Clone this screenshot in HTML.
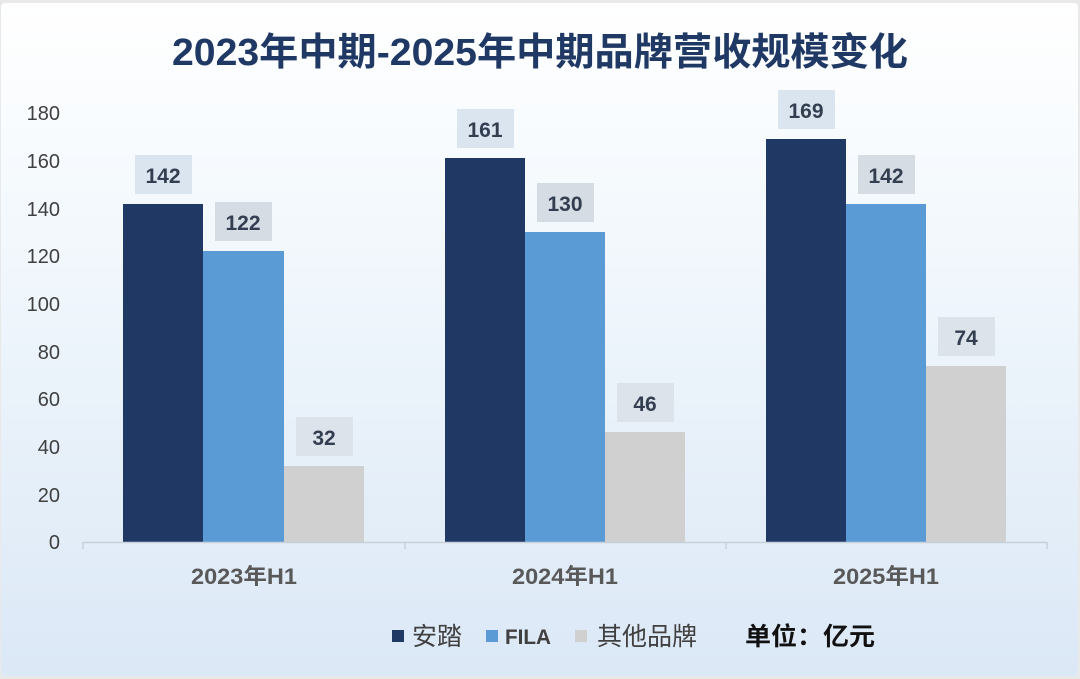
<!DOCTYPE html>
<html><head><meta charset="utf-8"><style>
html,body{margin:0;padding:0;background:#fff}
svg{display:block}
text{font-family:"Liberation Sans","Noto Sans CJK SC",sans-serif}
</style></head><body>
<svg width="1080" height="679" viewBox="0 0 1080 679" xmlns="http://www.w3.org/2000/svg">
<defs>
<linearGradient id="bg" x1="0" y1="0" x2="0" y2="1">
<stop offset="0" stop-color="#ffffff"/>
<stop offset="0.3" stop-color="#f4f9fd"/>
<stop offset="1" stop-color="#dbe8f6"/>
</linearGradient>
</defs>
<rect x="0" y="0" width="1080" height="679" fill="#e9e9e9"/>
<rect x="1" y="3" width="1077" height="673" rx="4" fill="url(#bg)"/>
<text x="540" y="65" text-anchor="middle" font-size="38" font-weight="bold" fill="#1f3864" textLength="736" lengthAdjust="spacingAndGlyphs">2023年中期-2025年中期品牌营收规模变化</text>
<g font-size="20" fill="#404040" text-anchor="end">
<text x="60" y="549">0</text>
<text x="60" y="502">20</text>
<text x="60" y="454">40</text>
<text x="60" y="406">60</text>
<text x="60" y="359">80</text>
<text x="60" y="311">100</text>
<text x="60" y="263">120</text>
<text x="60" y="216">140</text>
<text x="60" y="168">160</text>
<text x="60" y="120">180</text>
</g>
<g>
<rect x="123" y="204" width="80" height="338" fill="#1f3864"/>
<rect x="203" y="251" width="81" height="291" fill="#5b9bd5"/>
<rect x="284" y="466" width="80" height="76" fill="#d0d0d0"/>
<rect x="445" y="158" width="80" height="384" fill="#1f3864"/>
<rect x="525" y="232" width="80" height="310" fill="#5b9bd5"/>
<rect x="605" y="432" width="80" height="110" fill="#d0d0d0"/>
<rect x="766" y="139" width="80" height="403" fill="#1f3864"/>
<rect x="846" y="204" width="80" height="338" fill="#5b9bd5"/>
<rect x="926" y="366" width="80" height="176" fill="#d0d0d0"/>
</g>
<line x1="83" y1="542.5" x2="1047" y2="542.5" stroke="#c8d0da" stroke-width="1.5"/>
<g stroke="#c8d0da" stroke-width="1.5">
<line x1="83" y1="542" x2="83" y2="549"/><line x1="405" y1="542" x2="405" y2="549"/>
<line x1="726" y1="542" x2="726" y2="549"/><line x1="1047" y1="542" x2="1047" y2="549"/>
</g>
<g font-size="21" font-weight="bold" fill="#333f50" text-anchor="middle">
<rect x="135" y="155" width="57" height="39" fill="#dbe5f0"/><text x="163" y="183">142</text>
<rect x="215" y="202" width="57" height="39" fill="#d5dce4"/><text x="243" y="230">122</text>
<rect x="296" y="417" width="57" height="39" fill="#dde3ea"/><text x="324" y="445">32</text>
<rect x="457" y="109" width="57" height="39" fill="#dbe5f0"/><text x="485" y="137">161</text>
<rect x="537" y="183" width="57" height="39" fill="#d5dce4"/><text x="565" y="211">130</text>
<rect x="617" y="383" width="57" height="39" fill="#dde3ea"/><text x="645" y="411">46</text>
<rect x="778" y="90" width="57" height="39" fill="#dbe5f0"/><text x="806" y="118">169</text>
<rect x="858" y="155" width="57" height="39" fill="#d5dce4"/><text x="886" y="183">142</text>
<rect x="938" y="317" width="57" height="39" fill="#dde3ea"/><text x="966" y="345">74</text>
</g>
<g font-size="22" font-weight="bold" fill="#595959" text-anchor="middle">
<text x="244" y="584" textLength="106" lengthAdjust="spacingAndGlyphs">2023年H1</text>
<text x="565" y="584" textLength="106" lengthAdjust="spacingAndGlyphs">2024年H1</text>
<text x="886" y="584" textLength="106" lengthAdjust="spacingAndGlyphs">2025年H1</text>
</g>
<rect x="392" y="630" width="12" height="12" fill="#1f3864"/>
<text x="412" y="645" font-size="25" fill="#404040">安踏</text>
<rect x="486" y="630" width="12" height="12" fill="#5b9bd5"/>
<text x="505" y="644" font-size="21" font-weight="bold" fill="#404040" textLength="46" lengthAdjust="spacingAndGlyphs">FILA</text>
<rect x="575" y="630" width="12" height="12" fill="#d0d0d0"/>
<text x="597" y="645" font-size="25" fill="#404040">其他品牌</text>
<text x="745" y="645" font-size="25" font-weight="bold" fill="#111" textLength="130" lengthAdjust="spacingAndGlyphs">单位：亿元</text>
</svg>
</body></html>
